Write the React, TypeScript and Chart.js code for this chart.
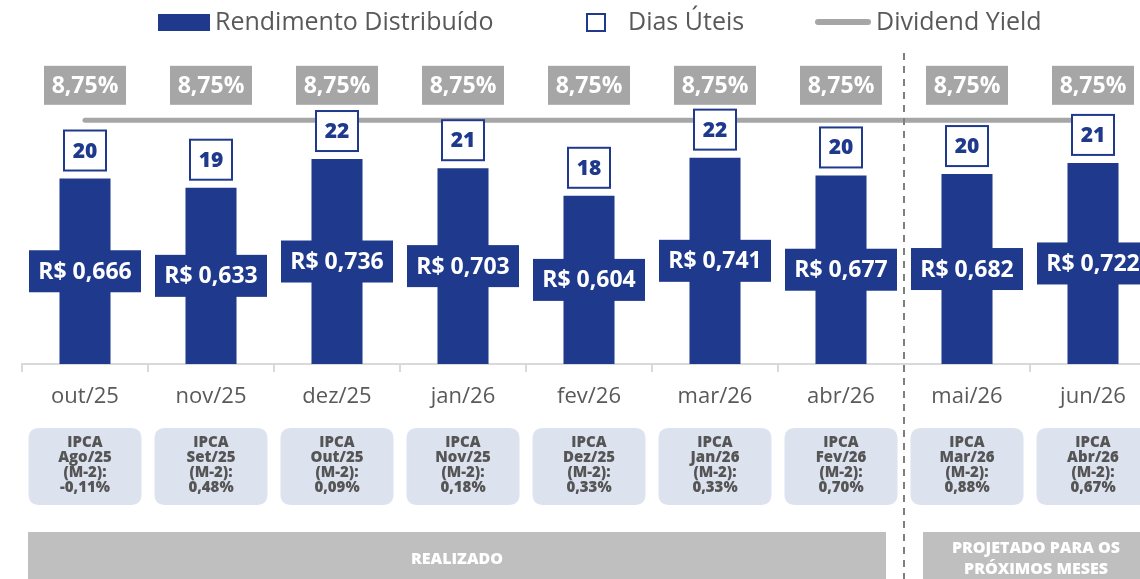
import React, { useEffect, useRef } from "react";
import { Chart, registerables } from "chart.js";

Chart.register(...registerables);

const categories = ["out/25", "nov/25", "dez/25", "jan/26", "fev/26", "mar/26", "abr/26", "mai/26", "jun/26"];
const rendimento = [0.666, 0.633, 0.736, 0.703, 0.604, 0.741, 0.677, 0.682, 0.722];
const diasUteis = [20, 19, 22, 21, 18, 22, 20, 20, 21];
const dividendYield = [8.75, 8.75, 8.75, 8.75, 8.75, 8.75, 8.75, 8.75, 8.75];
const ipcaMonths = ["Ago/25", "Set/25", "Out/25", "Nov/25", "Dez/25", "Jan/26", "Fev/26", "Mar/26", "Abr/26"];
const ipcaValues = ["-0,11%", "0,48%", "0,09%", "0,18%", "0,33%", "0,33%", "0,70%", "0,88%", "0,67%"];
const realizadoCount = 7;
const legendLabels = ["Rendimento Distribuído", "Dias Úteis", "Dividend Yield"];
const bandLabels = ["REALIZADO", "PROJETADO PARA OS", "PRÓXIMOS MESES"];

const NAVY = "#1F3A8C";
const GRAY = "#A6A6A6";
const TEXT = "#595959";
const FONT = "'Open Sans', 'DejaVu Sans', sans-serif";

const W = 1156;
const H = 579;

function roundRect(ctx: CanvasRenderingContext2D, x: number, y: number, w: number, h: number, r: number) {
  ctx.beginPath();
  ctx.moveTo(x + r, y);
  ctx.lineTo(x + w - r, y);
  ctx.quadraticCurveTo(x + w, y, x + w, y + r);
  ctx.lineTo(x + w, y + h - r);
  ctx.quadraticCurveTo(x + w, y + h, x + w - r, y + h);
  ctx.lineTo(x + r, y + h);
  ctx.quadraticCurveTo(x, y + h, x, y + h - r);
  ctx.lineTo(x, y + r);
  ctx.quadraticCurveTo(x, y, x + r, y);
  ctx.closePath();
}

const decorPlugin = {
  id: "decor",
  afterDatasetsDraw(chart: any) {
    const ctx: CanvasRenderingContext2D = chart.ctx;
    const barMeta = chart.getDatasetMeta(0);
    const lineMeta = chart.getDatasetMeta(1);
    ctx.save();
    ctx.textAlign = "center";
    ctx.textBaseline = "middle";
    barMeta.data.forEach((bar: any, i: number) => {
      const x = bar.x;
      const top = bar.y;
      const base = bar.base;
      // Dias úteis box
      const bw = 42, bh = 40;
      const by = top - 8 - bh;
      ctx.fillStyle = "#FFFFFF";
      ctx.fillRect(x - bw / 2, by, bw, bh);
      ctx.strokeStyle = NAVY;
      ctx.lineWidth = 2;
      ctx.strokeRect(x - bw / 2, by, bw, bh);
      ctx.fillStyle = NAVY;
      ctx.font = `800 21px ${FONT}`;
      ctx.fillText(String(diasUteis[i]), x, by + bh / 2 + 1);
      // value label
      const label = "R$ " + rendimento[i].toFixed(3).replace(".", ",");
      ctx.font = `bold 23px ${FONT}`;
      const tw = ctx.measureText(label).width;
      const lw = Math.max(112, tw + 14), lh = 42;
      const cy = (top + base) / 2;
      ctx.fillStyle = NAVY;
      ctx.fillRect(x - lw / 2, cy - lh / 2, lw, lh);
      ctx.fillStyle = "#FFFFFF";
      ctx.fillText(label, x, cy + 1);
    });
    // dividend yield labels
    lineMeta.data.forEach((pt: any, i: number) => {
      const x = pt.x;
      const cy = pt.y - 35;
      const w = 82, h = 39;
      ctx.fillStyle = GRAY;
      ctx.fillRect(x - w / 2, cy - h / 2, w, h);
      ctx.fillStyle = "#FFFFFF";
      ctx.font = `bold 23px ${FONT}`;
      ctx.fillText(dividendYield[i].toFixed(2).replace(".", ",") + "%", x, cy + 1);
    });
    ctx.restore();
  },
  afterDraw(chart: any) {
    const ctx: CanvasRenderingContext2D = chart.ctx;
    const xs = chart.scales.x;
    const px = categories.map((_, i) => xs.getPixelForValue(i));
    ctx.save();
    // IPCA boxes
    px.forEach((x, i) => {
      const w = 113, h = 77, y = 428;
      ctx.fillStyle = "#DCE2EE";
      roundRect(ctx, x - w / 2, y, w, h, 11);
      ctx.fill();
      ctx.fillStyle = "#555555";
      ctx.font = `800 15px ${FONT}`;
      ctx.textAlign = "center";
      ctx.textBaseline = "middle";
      const lines = ["IPCA", ipcaMonths[i], "(M-2):", ipcaValues[i]];
      lines.forEach((t, k) => ctx.fillText(t, x, 443 + k * 15));
    });
    // separator
    const sepX = (px[realizadoCount - 1] + px[realizadoCount]) / 2;
    ctx.strokeStyle = "#7F7F7F";
    ctx.lineWidth = 2;
    ctx.setLineDash([7, 6]);
    ctx.beginPath();
    ctx.moveTo(sepX, 53);
    ctx.lineTo(sepX, H);
    ctx.stroke();
    ctx.setLineDash([]);
    // bands
    const bandTop = 532;
    ctx.fillStyle = "#BFBFBF";
    const r1 = px[0] - 57, r2 = sepX - 18;
    ctx.fillRect(r1, bandTop, r2 - r1, H - bandTop);
    const p1 = sepX + 19, p2 = px[categories.length - 1] + 56;
    ctx.fillRect(p1, bandTop, p2 - p1, H - bandTop);
    ctx.fillStyle = "#FFFFFF";
    ctx.font = `800 16px ${FONT}`;
    ctx.textAlign = "center";
    ctx.textBaseline = "middle";
    ctx.fillText(bandLabels[0], (r1 + r2) / 2, 559);
    ctx.fillText(bandLabels[1], (p1 + p2) / 2, 548);
    ctx.fillText(bandLabels[2], (p1 + p2) / 2, 569);
    // legend
    ctx.textAlign = "left";
    ctx.font = `25px ${FONT}`;
    ctx.fillStyle = NAVY;
    ctx.fillRect(158, 14, 52, 17);
    ctx.fillStyle = TEXT;
    ctx.fillText(legendLabels[0], 215, 23);
    ctx.strokeStyle = NAVY;
    ctx.lineWidth = 2;
    ctx.strokeRect(587, 14, 18, 17);
    ctx.fillStyle = TEXT;
    ctx.fillText(legendLabels[1], 628, 23);
    ctx.strokeStyle = GRAY;
    ctx.lineWidth = 6;
    ctx.lineCap = "round";
    ctx.beginPath();
    ctx.moveTo(818, 22);
    ctx.lineTo(868, 22);
    ctx.stroke();
    ctx.fillStyle = TEXT;
    ctx.fillText(legendLabels[2], 876, 23);
    ctx.restore();
  },
};

export default function App() {
  const ref = useRef<HTMLCanvasElement | null>(null);
  useEffect(() => {
    if (!ref.current) return;
    const chart = new Chart(ref.current, {
      type: "bar",
      data: {
        labels: categories,
        datasets: [
          {
            type: "bar",
            label: legendLabels[0],
            data: rendimento,
            backgroundColor: NAVY,
            categoryPercentage: 1,
            barPercentage: 0.405,
            yAxisID: "y",
            order: 2,
          },
          {
            type: "line",
            label: legendLabels[2],
            data: dividendYield,
            borderColor: GRAY,
            borderWidth: 5,
            borderCapStyle: "round",
            pointRadius: 0,
            yAxisID: "y2",
            clip: false,
            order: 1,
          },
        ],
      } as any,
      options: {
        responsive: false,
        maintainAspectRatio: false,
        animation: false,
        events: [],
        layout: { padding: { left: 22, right: 0, top: 85.5, bottom: 0 } },
        plugins: { legend: { display: false }, tooltip: { enabled: false } },
        scales: {
          x: {
            offset: true,
            grid: {
              display: true,
              drawOnChartArea: false,
              drawTicks: true,
              tickLength: 8,
              color: "#D9D9D9",
              lineWidth: 2,
              offset: true,
            },
            border: { display: true, color: "#D9D9D9", width: 2 },
            ticks: {
              color: TEXT,
              font: { family: FONT, size: 22 },
              padding: 12,
              maxRotation: 0,
              autoSkip: false,
            },
            afterFit: (scale: any) => {
              scale.height = H - 364;
            },
          },
          y: { display: false, min: 0, max: 1 },
          y2: { display: false, min: 0, max: 10 },
        },
      } as any,
      plugins: [decorPlugin],
    });
    return () => chart.destroy();
  }, []);
  return (
    <div style={{ position: "fixed", left: 0, top: 0, width: 1140, height: H, overflow: "hidden", background: "#fff" }}>
      <canvas ref={ref} width={W} height={H} style={{ width: W, height: H, display: "block" }} />
    </div>
  );
}
